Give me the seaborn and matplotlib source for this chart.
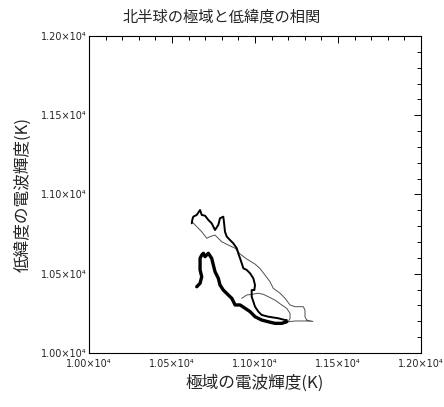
import numpy as np
import pandas as pd
import matplotlib
matplotlib.use("Agg")
import matplotlib.pyplot as plt
from matplotlib.ticker import MultipleLocator, FuncFormatter
import seaborn as sns

# ── Données (K) ───────────────────────────────────────────────────────────
# segment épais
thick_x = [10649, 10669, 10679, 10669, 10669, 10679, 10689, 10699, 10719, 10739,
           10749, 10759, 10779, 10789, 10809, 10839, 10860, 10880, 10910, 10940,
           10970, 11000, 11040, 11080, 11120, 11161, 11191]
thick_y = [10418, 10440, 10481, 10524, 10597, 10618, 10629, 10608, 10629, 10597,
           10555, 10513, 10471, 10429, 10397, 10366, 10345, 10303, 10303, 10282,
           10261, 10229, 10208, 10197, 10187, 10187, 10197]

# segment moyen
mid_x = [11191, 11181, 11140, 11080, 11040, 11020, 11000, 10990, 10980, 10980,
         10996, 11000, 10990, 10970, 10950, 10930, 10920, 10910, 10899, 10890,
         10869, 10849, 10830, 10819, 10815, 10809, 10789, 10779, 10759, 10739,
         10719, 10699, 10679, 10669, 10649, 10628, 10622, 10619]
mid_y = [10208, 10208, 10219, 10229, 10240, 10261, 10292, 10324, 10355, 10397,
         10397, 10429, 10471, 10503, 10524, 10534, 10566, 10597, 10629, 10661,
         10692, 10713, 10734, 10765, 10808, 10860, 10850, 10808, 10776, 10818,
         10839, 10866, 10871, 10902, 10871, 10860, 10839, 10818]

# segment fin
thin_x = [10622, 10639, 10679, 10709, 10729, 10759, 10799, 10839, 10880, 10910,
          10950, 11000, 11030, 11060, 11090, 11110, 11151, 11181, 11211, 11241,
          11291, 11301, 11301, 11311, 11349, 11307, 11241, 11201, 11211, 11211,
          11191, 11161, 11120, 11080, 11050, 11020, 10980, 10950, 10920]
thin_y = [10826, 10808, 10765, 10724, 10734, 10744, 10702, 10681, 10661, 10625,
          10593, 10561, 10533, 10492, 10450, 10408, 10377, 10345, 10303, 10292,
          10292, 10271, 10229, 10208, 10199, 10202, 10202, 10197, 10219, 10250,
          10282, 10303, 10334, 10355, 10370, 10377, 10370, 10366, 10345]

TITLE  = "北半球の極域と低緯度の相関"
XLABEL = "極域の電波輝度(K)"
YLABEL = "低緯度の電波輝度(K)"

sns.set_style("white")
plt.rcParams["font.family"] = ["DejaVu Sans"]
CJK = ["Noto Sans CJK JP", "DejaVu Sans"]

fig = plt.figure(figsize=(4.44, 4.07), dpi=100)
ax = fig.add_axes([0.2005, 0.1327, 0.7477, 0.7789])

segments = [
    (thin_x, thin_y, 0.7, "#505050"),
    (mid_x, mid_y, 1.4, "black"),
    (thick_x, thick_y, 2.4, "black"),
]
for xs, ys, lw, col in segments:
    df = pd.DataFrame({"x": xs, "y": ys})
    sns.lineplot(data=df, x="x", y="y", sort=False, estimator=None,
                 color=col, linewidth=lw, ax=ax)

ax.set_xlim(10000, 12000)
ax.set_ylim(10000, 12000)

fmt = FuncFormatter(lambda v, p: f"{v / 1e4:.2f}×10⁴")
for axis in (ax.xaxis, ax.yaxis):
    axis.set_major_locator(MultipleLocator(500))
    axis.set_minor_locator(MultipleLocator(100))
    axis.set_major_formatter(fmt)

ax.tick_params(which="both", direction="in", top=True, right=True,
               color="black", width=0.7)
ax.tick_params(which="major", length=5)
ax.tick_params(which="minor", length=2.6)
ax.tick_params(axis="x", labelsize=7, pad=4)
ax.tick_params(axis="y", labelsize=7, pad=2)

for sp in ax.spines.values():
    sp.set_color("black")
    sp.set_linewidth(0.8)

ax.set_xlabel(XLABEL, family=CJK, fontsize=12, va="center")
ax.xaxis.set_label_coords(0.5, -0.0946)
ax.set_ylabel(YLABEL, family=CJK, fontsize=12, va="center")
ax.yaxis.set_label_coords(-0.199, 0.5)

fig.text(0.5, 1 - 17 / 407, TITLE, family=CJK, fontsize=11,
         ha="center", va="center")

fig.savefig("out.png", dpi=100)
